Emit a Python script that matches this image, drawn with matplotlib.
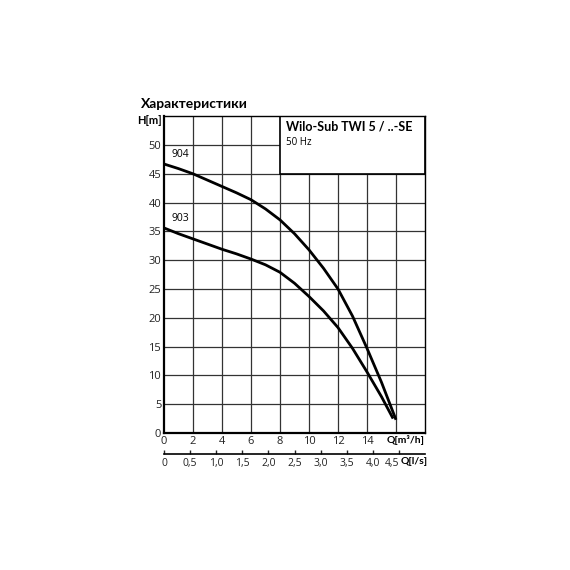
import numpy as np
import matplotlib
matplotlib.use("Agg")
import matplotlib.pyplot as plt

plt.rcParams['font.family'] = ['Open Sans', 'DejaVu Sans']
bold_font = ['Lato', 'Open Sans', 'DejaVu Sans']

# curve values (Q in m3/h, H in m)
q_904 = [0, 1, 2, 3, 4, 5, 6, 7, 8, 9, 10, 11, 12, 13, 14, 15, 16]
h_904 = [46.7, 45.9, 45.0, 43.9, 42.8, 41.7, 40.5, 38.9, 37.0, 34.6, 31.8, 28.6, 25.0, 20.3, 14.7, 8.8, 2.3]

q_903 = [0, 1, 2, 3, 4, 5, 6, 7, 8, 9, 10, 11, 12, 13, 14, 15, 15.8]
h_903 = [35.6, 34.6, 33.7, 32.8, 31.9, 31.1, 30.2, 29.2, 27.9, 26.0, 23.7, 21.2, 18.3, 14.7, 10.6, 6.3, 2.5]

x_ticks = [0, 2, 4, 6, 8, 10, 12, 14]
y_ticks = [0, 5, 10, 15, 20, 25, 30, 35, 40, 45, 50]
ls_ticks = [0, 0.5, 1.0, 1.5, 2.0, 2.5, 3.0, 3.5, 4.0, 4.5]

fig = plt.figure(figsize=(5.7, 5.7), dpi=100)
left, bottom, w, h = 164/570, 1 - 433/570, (425-164)/570, (433-116.2)/570
ax = fig.add_axes([left, bottom, w, h])
ax.set_xlim(0, 18)
ax.set_ylim(0, 55)

# grid
for gx in [2, 4, 6, 8, 10, 12, 14, 16]:
    ax.axvline(gx, color='#333333', lw=0.9, zorder=1)
for gy in [5, 10, 15, 20, 25, 30, 35, 40, 45, 50]:
    ax.axhline(gy, color='#333333', lw=0.9, zorder=1)

# title box in upper right
ax.add_patch(plt.Rectangle((8, 45), 10, 10, facecolor='white', edgecolor='black', lw=1.2, zorder=2))
ax.text(8.4, 54.2, 'Wilo-Sub TWI 5 / ..-SE', fontsize=9, fontweight='bold', family=bold_font,
        va='top', ha='left', zorder=3)
ax.text(8.4, 51.4, '50 Hz', fontsize=7, va='top', ha='left', zorder=3)

ax.plot(q_904, h_904, color='black', lw=2.0, zorder=4, solid_capstyle='butt')
ax.plot(q_903, h_903, color='black', lw=2.0, zorder=4, solid_capstyle='butt')
ax.text(0.55, 47.4, '904', fontsize=7.5, ha='left', va='bottom')
ax.text(0.55, 36.3, '903', fontsize=7.5, ha='left', va='bottom')

for s in ['top', 'right']:
    ax.spines[s].set_linewidth(1.0)
ax.spines['left'].set_linewidth(1.6)
ax.spines['bottom'].set_linewidth(1.6)

ax.set_xticks(x_ticks)
ax.set_yticks(y_ticks)
ax.tick_params(length=0, labelsize=8, colors='#222222', pad=2)
ax.set_xticklabels([str(t) for t in x_ticks])
ax.set_yticklabels([str(t) for t in y_ticks])
ax.text(-0.15, 54.3, 'H[m]', fontsize=8, fontweight='bold', family=bold_font, ha='right', va='center')

fig.text(141/570, 1 - 104/570, 'Характеристики', fontsize=10, fontweight='bold', family=bold_font,
         ha='left', va='center')
fig.text(425/570, 1 - 440/570, 'Q[m³/h]', fontsize=7.5, fontweight='bold', family=bold_font,
         ha='right', va='center')
fig.text(428/570, 1 - 462/570, 'Q[l/s]', fontsize=7.5, fontweight='bold', family=bold_font,
         ha='right', va='center')

# second axis in l/s
ax2 = fig.add_axes([left, 1 - 454/570, w, 0.001])
ax2.set_xlim(0, 5)
ax2.set_yticks([])
for s in ['top', 'right', 'left']:
    ax2.spines[s].set_visible(False)
ax2.spines['bottom'].set_linewidth(1.2)
ax2.set_xticks(ls_ticks)
ax2.set_xticklabels([('%.1f' % t).replace('.', ',') if t > 0 else '0' for t in ls_ticks])
ax2.tick_params(direction='in', length=3, width=1, labelsize=7.5, colors='#222222', pad=3)
ax2.get_xticklabels()[-1].set_horizontalalignment('right')

fig.savefig('out.png', dpi=100)
